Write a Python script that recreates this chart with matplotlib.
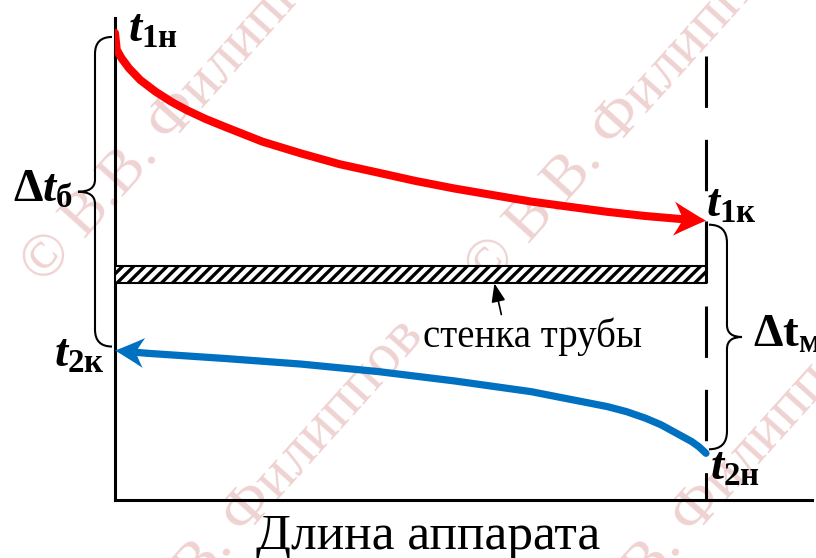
import numpy as np
import matplotlib
matplotlib.use("Agg")
import matplotlib.pyplot as plt
from matplotlib.path import Path
from matplotlib.patches import PathPatch, Rectangle
from matplotlib.lines import Line2D
from matplotlib.transforms import IdentityTransform

# горячий теплоноситель t1 (x - доля длины аппарата)
x_hot = [0, 0.003, 0.011, 0.024, 0.043, 0.069, 0.095, 0.121, 0.153, 0.186,
         0.218, 0.25, 0.315, 0.38, 0.445, 0.509, 0.574, 0.639, 0.704, 0.768,
         0.833, 0.898, 0.963, 1.0]
t_hot = [100, 96.4, 94.6, 92.4, 89.9, 87.4, 85.3, 83.5, 81.6, 79.9,
         78.3, 76.7, 74.2, 71.9, 70.1, 68.3, 66.7, 65.3, 63.9, 62.8,
         61.7, 60.8, 60.1, 59.8]
# холодный теплоноситель t2 (течёт справа налево)
x_cold = [0, 0.056, 0.186, 0.315, 0.445, 0.574, 0.704, 0.833, 0.866, 0.898,
          0.924, 0.95, 0.963, 0.976, 0.988, 1.0]
t_cold = [32, 31.4, 30.3, 29.1, 27.5, 25.5, 23.2, 20.0, 18.9, 17.5,
          16.1, 14.3, 13.4, 12.5, 11.4, 10.0]
wall = [46.4, 50.1]      # стенка трубы (низ, верх)
end_top = 95             # верх штриховой линии конца аппарата
watermark = "© В.В. Филиппов"

plt.rcParams["mathtext.fontset"] = "custom"
plt.rcParams["mathtext.rm"] = "Liberation Serif:bold"
plt.rcParams["mathtext.it"] = "Liberation Serif:italic:bold"
plt.rcParams["mathtext.bf"] = "Liberation Serif:bold"
plt.rcParams["lines.scale_dashes"] = False
plt.rcParams["hatch.linewidth"] = 2.4

fig = plt.figure(figsize=(8.16, 5.58), dpi=100)
ax = fig.add_axes([115 / 816, 58 / 558, 697 / 816, 482 / 558])
ax.set_xlim(0, 1.1794)
ax.set_ylim(0, 103.2)
ax.patch.set_visible(False)
for s in ["top", "right"]:
    ax.spines[s].set_visible(False)
for s in ["left", "bottom"]:
    ax.spines[s].set_linewidth(2.2)
ax.set_xticks([])
ax.set_yticks([])

# водяной знак
wm_pos = [(0.227, 0.812), (0.772, 0.803), (0.319, 0.109), (0.870, 0.109)]
for px, py in wm_pos:
    fig.text(px, py, watermark, rotation=48, ha="center", va="center",
             fontsize=44, family="Liberation Serif", color="#efd2d2",
             zorder=-1)

# конец аппарата
ax.plot([1, 1], [end_top, 0], color="black", lw=2.2, dashes=(37, 23),
        solid_capstyle="butt")
ax.plot([1, 1], [t_hot[-1], wall[0]], color="black", lw=2.2,
        solid_capstyle="butt")

# стенка трубы
ax.add_patch(Rectangle((0, wall[0]), 1, wall[1] - wall[0], facecolor="white",
                       edgecolor="black", lw=1.5, hatch="///", zorder=3))


def stealth(tip, frm, color, lw, L, W):
    # наконечник стрелки с вогнутым основанием
    a = ax.transData.transform(tip)
    b = ax.transData.transform(frm)
    d = (a - b) / np.hypot(*(a - b))
    n = np.array([-d[1], d[0]])
    back = a - d * L
    notch = a - d * L * 0.72
    left, right = back + n * W / 2, back - n * W / 2
    verts = [a, a - d * L * 0.5 + n * W * 0.23, left,
             back + d * L * 0.2 + n * W * 0.18, notch,
             back + d * L * 0.2 - n * W * 0.18, right,
             a - d * L * 0.5 - n * W * 0.23, a, a]
    codes = [Path.MOVETO, Path.CURVE3, Path.CURVE3, Path.CURVE3, Path.CURVE3,
             Path.CURVE3, Path.CURVE3, Path.CURVE3, Path.CURVE3,
             Path.CLOSEPOLY]
    fig.add_artist(Line2D([b[0], notch[0]], [b[1], notch[1]], color=color,
                          lw=lw, solid_capstyle="butt",
                          transform=IdentityTransform(), zorder=4))
    fig.add_artist(PathPatch(Path(verts, codes), fc=color, ec="none",
                             transform=IdentityTransform(), zorder=5))


# кривые температур
red, blue = "#ff0000", "#0070c0"
ax.plot(x_hot[:-1], t_hot[:-1], color=red, lw=5.8, solid_capstyle="round",
        solid_joinstyle="round", zorder=4)
stealth((x_hot[-1], t_hot[-1]), (x_hot[-2], t_hot[-2]), red, 5.8, 32, 34)
ax.plot(x_cold[1:], t_cold[1:], color=blue, lw=5.2, solid_capstyle="round",
        solid_joinstyle="round", zorder=4)
stealth((x_cold[0], t_cold[0]), (x_cold[1], t_cold[1]), blue, 5.2, 29, 30)


def brace(x, t_top, t_bot, side, r, tip, gap=3, inset=4, r2=12):
    xe, yt = ax.transData.transform((x, t_top))
    _, yb = ax.transData.transform((x, t_bot))
    yt -= inset
    yb += inset
    xe += side * gap
    xs = xe + side * r
    xt = xs + side * tip
    ym = (yt + yb) / 2
    verts = [(xe, yt), (xs, yt), (xs, yt - r), (xs, ym + r2), (xs, ym),
             (xt, ym), (xs, ym), (xs, ym - r2), (xs, yb + r), (xs, yb),
             (xe, yb)]
    codes = [Path.MOVETO, Path.CURVE3, Path.CURVE3, Path.LINETO,
             Path.CURVE3, Path.CURVE3, Path.CURVE3, Path.CURVE3,
             Path.LINETO, Path.CURVE3, Path.CURVE3]
    fig.add_artist(PathPatch(Path(verts, codes), fill=False, lw=1.5,
                             ec="black", transform=IdentityTransform()))


brace(0, t_hot[0], t_cold[0], -1, 17, 17)
brace(1, t_hot[-1], t_cold[-1], 1, 18, 15)

# подписи
fs = 34
lab = dict(textcoords="offset points", fontsize=fs, va="baseline",
           annotation_clip=False)
ax.annotate(r"$t_{\mathbf{1н}}$", xy=(x_hot[0], t_hot[0]), xytext=(9.4, -6.5),
            ha="left", **lab)
ax.annotate(r"$t_{\mathbf{1к}}$", xy=(x_hot[-1], t_hot[-1]), xytext=(0, 2.7),
            ha="left", **lab)
ax.annotate(r"$t_{\mathbf{2к}}$", xy=(x_cold[0], t_cold[0]),
            xytext=(-7.2, -11.5), ha="right", **lab)
ax.annotate(r"$t_{\mathbf{2н}}$", xy=(x_cold[-1], t_cold[-1]),
            xytext=(2.9, -18.7), ha="left", **lab)
mid_b = (t_hot[0] + t_cold[0]) / 2
ax.annotate(r"$\Delta t_{\mathbf{б}}$", xy=(0, mid_b), xytext=(-30, -7.2),
            ha="right", **lab)
mid_m = (t_hot[-1] + t_cold[-1]) / 2
ax.annotate(r"$\Delta\mathbf{t}_{\mathbf{м}}$", xy=(1, mid_m),
            xytext=(33.8, -7.2), ha="left", **lab)

ax.annotate("стенка трубы", xy=(0.642, wall[0]), xytext=(0.707, 32.8),
            textcoords="data", fontsize=28,
            family="Liberation Serif", ha="center", va="baseline",
            arrowprops=dict(arrowstyle="-|>,head_length=0.8,head_width=0.3",
                            color="black", lw=1.2, shrinkA=0, shrinkB=0,
                            relpos=(0.37, 0.72), mutation_scale=14))

fig.text(428 / 816, 1 - 549 / 558, "Длина аппарата", ha="center",
         va="baseline", fontsize=37, family="Liberation Serif")

fig.savefig("out.png", dpi=100)
